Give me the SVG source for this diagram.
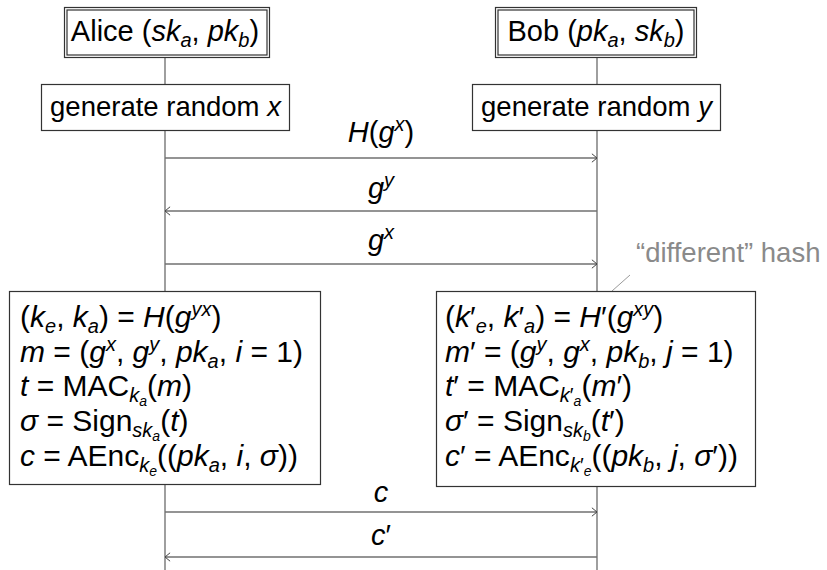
<svg xmlns="http://www.w3.org/2000/svg" width="827" height="570" viewBox="0 0 827 570">
<style>
text{font-family:"Liberation Sans",Arial,sans-serif;fill:#000}
.lbl{font-size:29px}
.gen{font-size:27.5px}
.f{font-size:30px}
.i{font-style:italic}
.s{font-size:20px}
.ss{font-size:14px}
.life{stroke:#6b6b6b;stroke-width:1.3;fill:none}
.msg{stroke:#707070;stroke-width:1.3;fill:none;marker-end:url(#arr)}
.box{fill:#fff;stroke:#333;stroke-width:1.2}
.note{font-size:27.5px;fill:#8a8a8a}
</style>
<defs>
<marker id="arr" viewBox="0 0 6 10" refX="5.6" refY="5" markerWidth="6" markerHeight="10" markerUnits="userSpaceOnUse" orient="auto">
<path d="M0.5,0.8 L5.6,5 L0.5,9.2" fill="none" stroke="#444" stroke-width="1"/>
</marker>
</defs>

<g id="lifelines">
<line class="life" x1="165" y1="58" x2="165" y2="570"/>
<line class="life" x1="597" y1="58" x2="597" y2="570"/>
</g>

<g id="alice">
<rect class="box" x="64.5" y="7.5" width="205" height="50"/>
<rect class="box" x="67" y="10" width="200" height="45" fill="none"/>
<text class="lbl" x="165" y="41" text-anchor="middle">Alice (<tspan class="i">sk</tspan><tspan class="s i" dy="6">a</tspan><tspan dy="-6">, </tspan><tspan class="i">pk</tspan><tspan class="s i" dy="6">b</tspan><tspan dy="-6">)</tspan></text>
</g>

<g id="bob">
<rect class="box" x="495.5" y="7.5" width="201" height="50"/>
<rect class="box" x="498" y="10" width="196" height="45" fill="none"/>
<text class="lbl" x="596" y="41" text-anchor="middle">Bob (<tspan class="i">pk</tspan><tspan class="s i" dy="6">a</tspan><tspan dy="-6">, </tspan><tspan class="i">sk</tspan><tspan class="s i" dy="6">b</tspan><tspan dy="-6">)</tspan></text>
</g>

<g id="gen-x">
<rect class="box" x="41.5" y="84.5" width="248" height="46"/>
<text class="gen" x="165.5" y="116" text-anchor="middle">generate random <tspan class="i">x</tspan></text>
</g>

<g id="gen-y">
<rect class="box" x="472.5" y="84.5" width="248" height="46"/>
<text class="gen" x="596.5" y="116" text-anchor="middle">generate random <tspan class="i">y</tspan></text>
</g>

<g id="connectors">
<line class="msg" x1="165" y1="158" x2="597" y2="158"/>
<line class="msg" x1="597" y1="211" x2="165" y2="211"/>
<line class="msg" x1="165" y1="264" x2="597" y2="264"/>
<line class="msg" x1="165" y1="512" x2="597" y2="512"/>
<line class="msg" x1="597" y1="557" x2="165" y2="557"/>
<line x1="630" y1="275" x2="612" y2="291" stroke="#9a9a9a" stroke-width="1"/>
</g>

<g id="msg-labels">
<text class="lbl" x="381" y="142" text-anchor="middle"><tspan class="i">H</tspan>(<tspan class="i">g</tspan><tspan class="s i" dy="-11">x</tspan><tspan dy="11">)</tspan></text>
<text class="lbl" x="381" y="198" text-anchor="middle"><tspan class="i">g</tspan><tspan class="s i" dy="-11">y</tspan></text>
<text class="lbl" x="381" y="250" text-anchor="middle"><tspan class="i">g</tspan><tspan class="s i" dy="-11">x</tspan></text>
<text class="lbl" x="381" y="502" text-anchor="middle"><tspan class="i">c</tspan></text>
<text class="lbl" x="381" y="545" text-anchor="middle"><tspan class="i">c</tspan>′</text>
</g>

<g id="note">
<text class="note" x="636" y="262">“different” hash</text>
</g>

<g id="alice-compute">
<rect class="box" x="9.5" y="291.5" width="311" height="193"/>
<text class="f" x="20" y="327">(<tspan class="i">k</tspan><tspan class="s i" dy="6">e</tspan><tspan dy="-6">, </tspan><tspan class="i">k</tspan><tspan class="s i" dy="6">a</tspan><tspan dy="-6">) = </tspan><tspan class="i">H</tspan>(<tspan class="i">g</tspan><tspan class="s i" dy="-11">yx</tspan><tspan dy="11">)</tspan></text>
<text class="f" x="20" y="362"><tspan class="i">m</tspan> = (<tspan class="i">g</tspan><tspan class="s i" dy="-11">x</tspan><tspan dy="11">, </tspan><tspan class="i">g</tspan><tspan class="s i" dy="-11">y</tspan><tspan dy="11">, </tspan><tspan class="i">pk</tspan><tspan class="s i" dy="6">a</tspan><tspan dy="-6">, </tspan><tspan class="i">i</tspan> = 1)</text>
<text class="f" x="20" y="396"><tspan class="i">t</tspan> = MAC<tspan class="s i" dy="6">k</tspan><tspan class="ss i" dy="4">a</tspan><tspan dy="-10">(</tspan><tspan class="i">m</tspan>)</text>
<text class="f" x="20" y="431"><tspan class="i">σ</tspan> = Sign<tspan class="s i" dy="6">sk</tspan><tspan class="ss i" dy="4">a</tspan><tspan dy="-10">(</tspan><tspan class="i">t</tspan>)</text>
<text class="f" x="20" y="466"><tspan class="i">c</tspan> = AEnc<tspan class="s i" dy="6">k</tspan><tspan class="ss i" dy="4">e</tspan><tspan dy="-10">((</tspan><tspan class="i">pk</tspan><tspan class="s i" dy="6">a</tspan><tspan dy="-6">, </tspan><tspan class="i">i</tspan>, <tspan class="i">σ</tspan>))</text>
</g>

<g id="bob-compute">
<rect class="box" x="436.5" y="291.5" width="319" height="195"/>
<text class="f" x="445" y="327">(<tspan class="i">k</tspan>′<tspan class="s i" dy="6">e</tspan><tspan dy="-6">, </tspan><tspan class="i">k</tspan>′<tspan class="s i" dy="6">a</tspan><tspan dy="-6">) = </tspan><tspan class="i">H</tspan>′(<tspan class="i">g</tspan><tspan class="s i" dy="-11">xy</tspan><tspan dy="11">)</tspan></text>
<text class="f" x="445" y="362"><tspan class="i">m</tspan>′ = (<tspan class="i">g</tspan><tspan class="s i" dy="-11">y</tspan><tspan dy="11">, </tspan><tspan class="i">g</tspan><tspan class="s i" dy="-11">x</tspan><tspan dy="11">, </tspan><tspan class="i">pk</tspan><tspan class="s i" dy="6">b</tspan><tspan dy="-6">, </tspan><tspan class="i">j</tspan> = 1)</text>
<text class="f" x="445" y="396"><tspan class="i">t</tspan>′ = MAC<tspan class="s i" dy="6">k</tspan><tspan class="s">′</tspan><tspan class="ss i" dy="4">a</tspan><tspan dy="-10">(</tspan><tspan class="i">m</tspan>′)</text>
<text class="f" x="445" y="431"><tspan class="i">σ</tspan>′ = Sign<tspan class="s i" dy="6">sk</tspan><tspan class="ss i" dy="4">b</tspan><tspan dy="-10">(</tspan><tspan class="i">t</tspan>′)</text>
<text class="f" x="445" y="466"><tspan class="i">c</tspan>′ = AEnc<tspan class="s i" dy="6">k</tspan><tspan class="s">′</tspan><tspan class="ss i" dy="4">e</tspan><tspan dy="-10">((</tspan><tspan class="i">pk</tspan><tspan class="s i" dy="6">b</tspan><tspan dy="-6">, </tspan><tspan class="i">j</tspan>, <tspan class="i">σ</tspan>′))</text>
</g>
</svg>
